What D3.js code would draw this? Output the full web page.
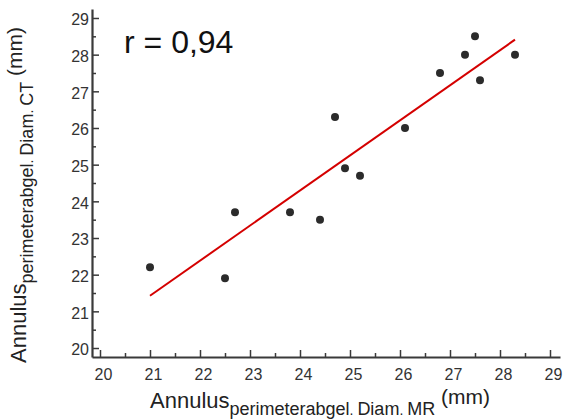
<!DOCTYPE html>
<html>
<head>
<meta charset="utf-8">
<script src="https://cdn.jsdelivr.net/npm/d3@7"></script>
<style>
  body { margin: 0; background: #fff; }
  svg { display: block; font-family: "Liberation Sans", Arial, sans-serif; }
  .axis path, .axis line { stroke: #3a3a3a; }
  .axis text { fill: #333; font-size: 16px; }
</style>
</head>
<body>
<div id="chart"></div>
<script>
const width = 563,
   height = 419;

const mrDiam = [21.0, 22.5, 22.7, 23.8, 24.4, 24.7, 24.9, 25.2, 26.1, 26.8, 27.3, 27.5, 27.6, 28.3];
const ctDiam = [22.2, 21.9, 23.7, 23.7, 23.5, 26.3, 24.9, 24.7, 26.0, 27.5, 28.0, 28.5, 27.3, 28.0];
const majorTicks = [20, 21, 22, 23, 24, 25, 26, 27, 28, 29];
const minorTicks = [20.5, 21.5, 22.5, 23.5, 24.5, 25.5, 26.5, 27.5, 28.5];
const rLabel = 'r = 0,94';

const points = mrDiam.map((d, i) => ({x: d, y: ctDiam[i]}));

const svg = d3.select('#chart')
   .append('svg')
   .attr('width', width)
   .attr('height', height);

const xScale = d3.scaleLinear().domain([19.84, 29.2]).range([92, 560]);
const yScale = d3.scaleLinear().domain([19.755, 29.245]).range([357, 9]);

// least squares fit
const mx = d3.mean(mrDiam), my = d3.mean(ctDiam);
const sxy = d3.sum(points, p => (p.x - mx) * (p.y - my));
const sxx = d3.sum(points, p => (p.x - mx) * (p.x - mx));
const slope = sxy / sxx, icpt = my - slope * mx;
const xExt = d3.extent(mrDiam);

// minor ticks
svg.append('g')
   .attr('class', 'axis')
   .attr('transform', 'translate(0,357)')
   .call(d3.axisBottom(xScale).tickValues(minorTicks).tickSize(-4).tickSizeOuter(0).tickFormat(''))
   .call(g => g.select('.domain').remove())
   .selectAll('line').attr('stroke-width', 1.5);

svg.append('g')
   .attr('class', 'axis')
   .attr('transform', 'translate(92,0)')
   .call(d3.axisLeft(yScale).tickValues(minorTicks).tickSize(-4).tickSizeOuter(0).tickFormat(''))
   .call(g => g.select('.domain').remove())
   .selectAll('line').attr('stroke-width', 1.5);

// major axes
const xAxis = svg.append('g')
   .attr('class', 'axis')
   .attr('transform', 'translate(0,357)')
   .call(d3.axisBottom(xScale).tickValues(majorTicks).tickSize(-7).tickSizeOuter(0).tickPadding(12));
xAxis.select('.domain').attr('stroke-width', 2.2);
xAxis.selectAll('.tick line').attr('stroke-width', 1.5);
xAxis.selectAll('.tick text').attr('dx', 3);

const yAxis = svg.append('g')
   .attr('class', 'axis')
   .attr('transform', 'translate(92,0)')
   .call(d3.axisLeft(yScale).tickValues(majorTicks).tickSize(-7).tickSizeOuter(0).tickPadding(3));
yAxis.select('.domain').attr('stroke-width', 2.2);
yAxis.selectAll('.tick line').attr('stroke-width', 1.5);
yAxis.selectAll('.tick text').attr('dy', '0.42em');

// regression line
svg.append('line')
   .attr('x1', xScale(xExt[0]))
   .attr('y1', yScale(icpt + slope * xExt[0]))
   .attr('x2', xScale(xExt[1]))
   .attr('y2', yScale(icpt + slope * xExt[1]))
   .attr('stroke', '#d40000')
   .attr('stroke-width', 2);

svg.selectAll('.dot')
   .data(points)
   .join('circle')
   .attr('class', 'dot')
   .attr('cx', d => xScale(d.x))
   .attr('cy', d => yScale(d.y))
   .attr('r', 4)
   .attr('fill', '#2b2b2b');

svg.append('text')
   .attr('x', 124)
   .attr('y', 53)
   .attr('font-size', 32)
   .attr('fill', '#111')
   .text(rLabel);

// axis titles with subscript
const addTitle = function(g, sub) {
   const t = g.append('text').attr('fill', '#222');
   t.append('tspan').attr('font-size', 22).text('Annulus');
   t.append('tspan').attr('font-size', 18).attr('dy', 7).text('perimeterabgel');
   t.append('tspan').attr('font-size', 14).text('. ');
   t.append('tspan').attr('font-size', 18).text('Diam');
   t.append('tspan').attr('font-size', 14).text('.  ');
   t.append('tspan').attr('font-size', 18).text(sub);
   t.append('tspan').attr('font-size', 21).attr('dy', -11).text(' (mm)');
};

addTitle(svg.append('g').attr('transform', 'translate(150,408)'), 'MR');
addTitle(svg.append('g').attr('transform', 'translate(26,363) rotate(-90)'), 'CT');
</script>
</body>
</html>
